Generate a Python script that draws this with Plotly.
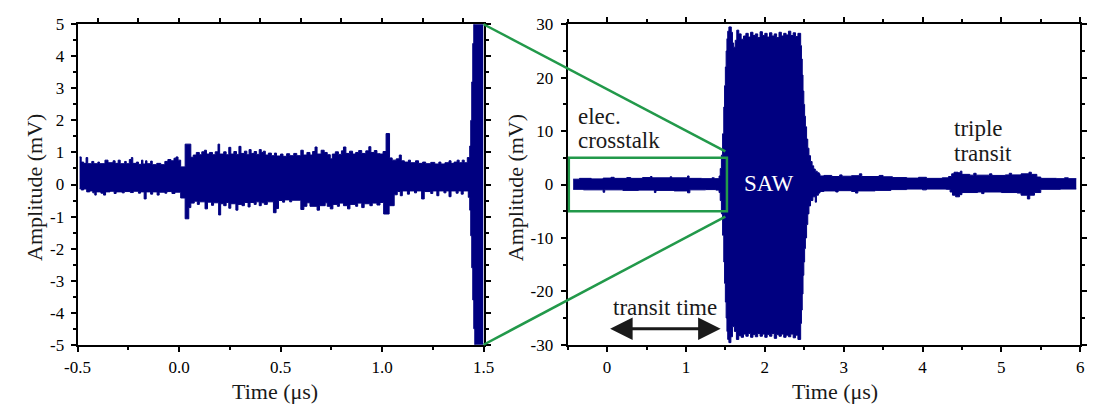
import plotly.graph_objects as go

W, H = 1101, 412
NAVY = "#000080"
GREEN = "#22994a"
FONT = "Liberation Serif, Times New Roman, Times, serif"

# ---------------- zoomed record, -0.5 ... 1.5 us (envelope, mV) ----------------
zoom_up_t = [-0.49, -0.482, -0.47, -0.458, -0.45, -0.43, -0.42, -0.40, -0.392, -0.365,
             -0.35, -0.325, -0.315, -0.30, -0.29, -0.268, -0.26, -0.245, -0.235, -0.228,
             -0.21, -0.20, -0.185, -0.178, -0.165, -0.158, -0.14, -0.132, -0.11, -0.09,
             -0.07, -0.055, -0.04, -0.025, -0.015, -0.005, 0.008, 0.03, 0.058, 0.07,
             0.085, 0.10, 0.112, 0.125, 0.135, 0.15, 0.165, 0.178, 0.192, 0.20,
             0.22, 0.232, 0.245, 0.255, 0.27, 0.283, 0.295, 0.305, 0.322, 0.334,
             0.345, 0.355, 0.37, 0.382, 0.395, 0.405, 0.415, 0.425, 0.44, 0.455,
             0.47, 0.48, 0.50, 0.512, 0.53, 0.545, 0.565, 0.58, 0.60, 0.612,
             0.63, 0.645, 0.658, 0.67, 0.68, 0.70, 0.715, 0.73, 0.745, 0.755,
             0.77, 0.785, 0.80, 0.81, 0.822, 0.84, 0.855, 0.87, 0.885, 0.90,
             0.92, 0.935, 0.945, 0.962, 0.975, 0.99, 1.005, 1.02, 1.037, 1.05,
             1.07, 1.085, 1.095, 1.11, 1.13, 1.14, 1.165, 1.18, 1.20, 1.215,
             1.24, 1.26, 1.28, 1.29, 1.31, 1.33, 1.34, 1.355, 1.37, 1.38,
             1.395, 1.405, 1.42, 1.432, 1.437, 1.442, 1.447, 1.452, 1.46, 1.50]
zoom_up_v = [0.86, 0.70, 0.66, 0.84, 0.65, 0.72, 0.65, 0.70, 0.65, 0.76,
             0.68, 0.74, 0.66, 0.76, 0.65, 0.72, 0.65, 0.78, 0.84, 0.66,
             0.70, 0.63, 0.76, 0.64, 0.74, 0.65, 0.73, 0.62, 0.66, 0.62,
             0.72, 0.78, 0.74, 0.82, 0.86, 0.76, 0.55, 1.26, 0.85, 0.92,
             1.00, 0.93, 1.02, 1.07, 0.95, 1.00, 0.93, 1.02, 1.26, 0.95,
             1.02, 0.93, 1.16, 0.95, 1.03, 0.94, 1.19, 0.97, 1.04, 0.93,
             1.09, 0.97, 1.03, 0.94, 1.09, 1.00, 1.04, 0.92, 0.98, 0.90,
             0.98, 0.89, 0.95, 0.88, 0.96, 0.90, 0.97, 0.90, 1.07, 0.92,
             1.00, 0.92, 1.03, 1.17, 0.95, 1.07, 1.00, 0.93, 0.80, 0.95,
             1.02, 0.94, 1.05, 1.17, 0.97, 1.04, 0.95, 1.00, 1.06, 0.97,
             1.05, 1.18, 1.00, 1.06, 0.96, 0.95, 1.03, 1.59, 0.83, 0.76,
             0.80, 0.92, 0.74, 0.70, 0.76, 0.68, 0.74, 0.66, 0.70, 0.65,
             0.69, 0.64, 0.70, 0.64, 0.68, 0.74, 0.66, 0.70, 0.76, 0.68,
             0.76, 0.68, 0.84, 1.2, 2.0, 3.2, 4.4, 5.5, 6.0, 6.0]
zoom_lo_t = [-0.49, -0.482, -0.47, -0.455, -0.44, -0.425, -0.415, -0.408, -0.385, -0.372,
             -0.362, -0.34, -0.32, -0.31, -0.28, -0.27, -0.24, -0.225, -0.20, -0.19,
             -0.172, -0.162, -0.14, -0.13, -0.108, -0.098, -0.07, -0.06, -0.035, -0.02,
             0.008, 0.03, 0.048, 0.058, 0.075, 0.09, 0.10, 0.128, 0.14, 0.16,
             0.17, 0.195, 0.205, 0.22, 0.232, 0.245, 0.255, 0.28, 0.29, 0.31,
             0.322, 0.34, 0.35, 0.37, 0.38, 0.395, 0.405, 0.42, 0.435, 0.465,
             0.478, 0.49, 0.51, 0.52, 0.545, 0.555, 0.60, 0.615, 0.63, 0.645,
             0.68, 0.692, 0.72, 0.73, 0.745, 0.758, 0.78, 0.79, 0.81, 0.83,
             0.842, 0.87, 0.88, 0.90, 0.912, 0.94, 0.952, 0.975, 0.99, 1.008,
             1.035, 1.06, 1.075, 1.09, 1.10, 1.125, 1.135, 1.16, 1.17, 1.195,
             1.208, 1.24, 1.25, 1.27, 1.28, 1.305, 1.315, 1.33, 1.34, 1.365,
             1.375, 1.39, 1.40, 1.425, 1.432, 1.437, 1.442, 1.447, 1.452, 1.457,
             1.46, 1.50]
zoom_lo_v = [-0.13, -0.17, -0.14, -0.23, -0.20, -0.26, -0.33, -0.23, -0.27, -0.33,
             -0.23, -0.21, -0.28, -0.23, -0.26, -0.22, -0.25, -0.21, -0.27, -0.23,
             -0.45, -0.23, -0.30, -0.23, -0.33, -0.24, -0.27, -0.22, -0.28, -0.24,
             -0.42, -1.07, -0.72, -0.58, -0.52, -0.62, -0.54, -0.76, -0.55, -0.65,
             -0.57, -0.95, -0.60, -0.66, -0.56, -0.74, -0.60, -0.80, -0.62, -0.66,
             -0.56, -0.70, -0.56, -0.62, -0.54, -0.66, -0.57, -0.62, -0.54, -0.88,
             -0.75, -0.50, -0.55, -0.48, -0.54, -0.49, -0.78, -0.68, -0.57, -0.68,
             -0.80, -0.66, -0.57, -0.68, -0.76, -0.62, -0.68, -0.58, -0.66, -0.76,
             -0.62, -0.68, -0.58, -0.72, -0.60, -0.66, -0.58, -0.64, -0.56, -0.92,
             -0.66, -0.32, -0.22, -0.35, -0.20, -0.30, -0.20, -0.26, -0.20, -0.45,
             -0.22, -0.28, -0.20, -0.35, -0.20, -0.26, -0.20, -0.38, -0.20, -0.27,
             -0.20, -0.30, -0.20, -0.40, -0.80, -1.6, -2.6, -3.6, -4.5, -5.5,
             -6.0, -6.0]

# ---------------- full record, -0.5 ... 6 us (envelope, mV) ----------------
full_up_t = [-0.43, -0.35, -0.20, -0.05, 0.05, 0.09, 0.25, 0.30, 0.45, 0.55,
             0.57, 0.80, 0.82, 1.02, 1.04, 1.20, 1.33, 1.36, 1.42, 1.435,
             1.45, 1.465, 1.48, 1.49, 1.50, 1.51, 1.52, 1.53, 1.545, 1.575,
             1.59, 1.605, 1.625, 1.645, 1.67, 1.70, 1.73, 1.76, 1.79, 1.82,
             1.85, 1.88, 1.91, 1.94, 1.97, 2.00, 2.03, 2.06, 2.09, 2.12,
             2.15, 2.18, 2.21, 2.24, 2.27, 2.30, 2.33, 2.36, 2.39, 2.42,
             2.455, 2.465, 2.475, 2.485, 2.495, 2.505, 2.515, 2.53, 2.545, 2.56,
             2.58, 2.60, 2.62, 2.64, 2.665, 2.69, 2.70, 2.75, 2.85, 2.95,
             2.98, 3.10, 3.20, 3.23, 3.45, 3.50, 3.62, 3.80, 3.95, 4.05,
             4.25, 4.33, 4.37, 4.40, 4.45, 4.48, 4.50, 4.60, 4.65, 4.68,
             4.85, 4.88, 5.05, 5.10, 5.13, 5.25, 5.35, 5.38, 5.45, 5.50,
             5.70, 5.80, 5.85, 5.95]
full_up_v = [1.0, 1.15, 1.05, 1.2, 1.35, 1.15, 1.3, 1.15, 1.3, 1.5,
             1.25, 1.45, 1.25, 1.6, 1.15, 1.1, 1.25, 1.1, 1.6, 3.0,
             5.5, 9.5, 14.5, 18.5, 22.0, 25.0, 27.3, 28.7, 29.5, 28.5,
             26.5, 25.7, 27.0, 28.9, 28.2, 27.2, 27.8, 28.3, 27.6, 28.5,
             27.9, 28.2, 27.5, 28.6, 27.9, 28.3, 27.6, 28.4, 27.8, 28.2,
             27.5, 28.5, 27.8, 28.3, 28.0, 28.7, 27.9, 28.4, 27.7, 28.3,
             26.0, 23.5, 20.5, 17.5, 15.0, 12.8, 10.8, 8.5, 6.8, 5.4,
             4.3, 3.5, 2.9, 2.5, 2.2, 2.0, 1.6, 1.7, 1.5, 1.8,
             1.55, 1.65, 2.0, 1.5, 1.7, 1.45, 1.3, 1.2, 1.35, 1.15,
             1.25, 1.5, 2.0, 2.3, 2.2, 2.5, 1.9, 1.75, 2.1, 1.75,
             2.0, 1.7, 1.8, 2.1, 1.8, 2.0, 2.3, 1.9, 1.4, 1.15,
             1.1, 1.25, 1.1, 1.1]
full_lo_t = [-0.43, -0.30, -0.05, -0.03, 0.20, 0.40, 0.60, 0.62, 0.85, 1.02,
             1.05, 1.25, 1.38, 1.42, 1.435, 1.45, 1.465, 1.48, 1.49, 1.50,
             1.51, 1.52, 1.53, 1.545, 1.57, 1.59, 1.615, 1.64, 1.67, 1.70,
             1.73, 1.76, 1.79, 1.82, 1.85, 1.88, 1.91, 1.94, 1.97, 2.00,
             2.03, 2.06, 2.09, 2.12, 2.15, 2.18, 2.21, 2.24, 2.27, 2.30,
             2.33, 2.36, 2.39, 2.42, 2.455, 2.465, 2.475, 2.485, 2.495, 2.505,
             2.515, 2.53, 2.545, 2.56, 2.58, 2.61, 2.64, 2.655, 2.68, 2.70,
             2.75, 2.90, 2.93, 3.10, 3.15, 3.18, 3.40, 3.60, 3.80, 4.00,
             4.05, 4.30, 4.35, 4.38, 4.42, 4.47, 4.50, 4.70, 4.75, 4.78,
             5.00, 5.20, 5.25, 5.33, 5.36, 5.42, 5.50, 5.75, 5.95]
full_lo_v = [-0.9, -1.0, -1.45, -1.0, -1.1, -1.05, -1.5, -1.1, -1.2, -1.55,
             -1.0, -0.95, -1.05, -1.5, -3.0, -5.5, -9.5, -14.5, -18.5, -22.0,
             -25.0, -27.5, -29.0, -29.6, -28.5, -26.6, -27.5, -29.0, -28.3, -28.6,
             -28.0, -28.4, -27.9, -28.6, -28.1, -28.5, -27.9, -28.4, -28.0, -28.6,
             -28.1, -28.4, -27.9, -28.8, -28.1, -28.4, -28.0, -28.6, -28.2, -28.5,
             -28.0, -28.7, -28.2, -29.0, -26.0, -23.5, -20.5, -17.0, -14.5, -12.0,
             -10.0, -7.5, -5.5, -4.0, -3.0, -2.3, -3.3, -2.0, -1.6, -1.3,
             -1.2, -1.4, -1.15, -1.3, -1.6, -1.2, -1.1, -0.95, -0.85, -1.0,
             -0.85, -0.9, -1.4, -2.0, -2.3, -1.9, -1.5, -1.4, -1.7, -1.4,
             -1.5, -1.6, -2.0, -2.7, -2.0, -1.5, -0.9, -0.85, -0.85]

# ---------------- axes ----------------
zoom_x_range = [-0.5, 1.5]
zoom_y_range = [-5, 5]
full_x_range = [-0.5, 6]
full_y_range = [-30, 30]

zoom_x_ticks = [-0.5, 0.0, 0.5, 1.0, 1.5]
zoom_x_labels = ["-0.5", "0.0", "0.5", "1.0", "1.5"]
zoom_x_top_ticks = [-0.4, -0.2, 0.0, 0.2, 0.4, 0.6, 0.8, 1.0, 1.2, 1.4]
zoom_y_ticks = [-5, -4, -3, -2, -1, 0, 1, 2, 3, 4, 5]
zoom_y_labels = ["-5", "-4", "-3", "-2", "-1", "0", "1", "2", "3", "4", "5"]
full_x_ticks = [0, 1, 2, 3, 4, 5, 6]
full_x_labels = ["0", "1", "2", "3", "4", "5", "6"]
full_y_ticks = [-30, -20, -10, 0, 10, 20, 30]
full_y_labels = ["-30", "-20", "-10", "0", "10", "20", "30"]

# plot areas in pixels (left, right) / (top, bottom)
ZX = (66 / W, 481 / W)
FX = (567 / W, 1091 / W)
YD = (1 - 352 / H, 1 - 16 / H)


def to_paper(dom, rng, val):
    return dom[0] + (val - rng[0]) / (rng[1] - rng[0]) * (dom[1] - dom[0])


fig = go.Figure()


def add_envelope(t_lo, v_lo, t_up, v_up, xa, ya):
    fig.add_trace(go.Scatter(x=t_lo, y=v_lo, mode="lines", xaxis=xa, yaxis=ya,
                             line=dict(color=NAVY, width=1, shape="hv"),
                             hoverinfo="skip", showlegend=False))
    fig.add_trace(go.Scatter(x=t_up, y=v_up, mode="lines", xaxis=xa, yaxis=ya,
                             line=dict(color=NAVY, width=1, shape="hv"),
                             fill="tonexty", fillcolor=NAVY,
                             hoverinfo="skip", showlegend=False))


add_envelope(zoom_lo_t, zoom_lo_v, zoom_up_t, zoom_up_v, "x", "y")
add_envelope(full_lo_t, full_lo_v, full_up_t, full_up_v, "x2", "y2")

tick_font = dict(family=FONT, size=17, color="black")
common = dict(showline=True, linewidth=2, linecolor="black", ticks="outside",
              ticklen=5, tickwidth=2, tickcolor="black", showgrid=False,
              zeroline=False, tickfont=tick_font, tickmode="array")
minor_style = dict(tickmode="linear", ticks="outside", ticklen=3, tickwidth=2,
                   tickcolor="black")

fig.update_layout(
    width=W, height=H, margin=dict(l=0, r=0, t=0, b=0),
    paper_bgcolor="white", plot_bgcolor="white", showlegend=False,
    font=dict(family=FONT),
    xaxis=dict(common, domain=ZX, range=zoom_x_range, anchor="y", mirror=True,
               tickvals=zoom_x_ticks, ticktext=zoom_x_labels, ticklabelstandoff=1,
               minor=dict(minor_style, tick0=-0.5, dtick=0.25)),
    xaxis3=dict(overlaying="x", side="top", anchor="y", range=zoom_x_range,
                showline=False, showgrid=False, zeroline=False, showticklabels=False,
                ticks="outside", ticklen=5, tickwidth=2, tickcolor="black",
                tickmode="array", tickvals=zoom_x_top_ticks),
    yaxis=dict(common, domain=YD, range=zoom_y_range, anchor="x", mirror="ticks",
               tickvals=zoom_y_ticks, ticktext=zoom_y_labels, ticklabelstandoff=3,
               minor=dict(minor_style, tick0=-5, dtick=0.5)),
    xaxis2=dict(common, domain=FX, range=full_x_range, anchor="y2", mirror="ticks",
                tickvals=full_x_ticks, ticktext=full_x_labels, ticklabelstandoff=1,
                minor=dict(minor_style, tick0=-0.5, dtick=0.5)),
    yaxis2=dict(common, domain=YD, range=full_y_range, anchor="x2", mirror="ticks",
                tickvals=full_y_ticks, ticktext=full_y_labels, ticklabelstandoff=4,
                minor=dict(minor_style, tick0=-30, dtick=5)),
)

# empty trace attached to the top tick axis of the zoom panel
fig.add_trace(go.Scatter(x=[None], y=[None], xaxis="x3", yaxis="y",
                         hoverinfo="skip", showlegend=False))

# zoom window on the full record and the connecting lines
box_t = (-0.485, 1.52)
box_v = (-5.0, 5.0)
fig.add_shape(type="rect", xref="x2", yref="y2", x0=box_t[0], x1=box_t[1],
              y0=box_v[0], y1=box_v[1], line=dict(color=GREEN, width=2.5),
              layer="above")
for zv, fv in ((5, 6.2), (-5, -6.0)):
    fig.add_shape(type="line", xref="paper", yref="paper",
                  x0=to_paper(ZX, zoom_x_range, 1.5), y0=to_paper(YD, zoom_y_range, zv),
                  x1=to_paper(FX, full_x_range, 1.5), y1=to_paper(YD, full_y_range, fv),
                  line=dict(color=GREEN, width=2.5), layer="above")

label_font = dict(family=FONT, size=23, color="#1a1a1a")
for txt, t, v in (("elec.", -0.40, 12.7), ("crosstalk", -0.40, 8.3),
                  ("triple", 4.38, 10.4), ("transit", 4.38, 5.8)):
    fig.add_annotation(x=t, y=v, xref="x2", yref="y2", text=txt, showarrow=False,
                       xanchor="left", yanchor="middle", font=label_font)
fig.add_annotation(x=2.05, y=0.2, xref="x2", yref="y2", text="SAW", showarrow=False,
                   font=dict(family=FONT, size=23, color="white"))
fig.add_annotation(x=0.73, y=-23.0, xref="x2", yref="y2", text="transit time",
                   showarrow=False, font=label_font)
fig.add_annotation(x=1.44, y=-27.0, ax=0.02, ay=-27.0, xref="x2", yref="y2",
                   axref="x2", ayref="y2", text="", showarrow=True,
                   arrowhead=2, startarrowhead=2, arrowside="end+start",
                   arrowwidth=3, arrowsize=1.5, startarrowsize=1.5,
                   arrowcolor="#1a1a1a")

# axis titles
title_font = dict(family=FONT, size=22, color="#1a1a1a")
for xp in (22, 514):
    fig.add_annotation(x=xp / W, y=1 - 187 / H, xref="paper", yref="paper",
                       text="Amplitude (mV)", textangle=-90, showarrow=False,
                       xanchor="center", yanchor="middle", font=title_font)
for xp in (268, 840):
    fig.add_annotation(x=xp / W, y=1 - 401 / H, xref="paper", yref="paper",
                       text="Time (μs)", showarrow=False,
                       xanchor="center", yanchor="middle", font=title_font)

fig.write_html("out.html")
